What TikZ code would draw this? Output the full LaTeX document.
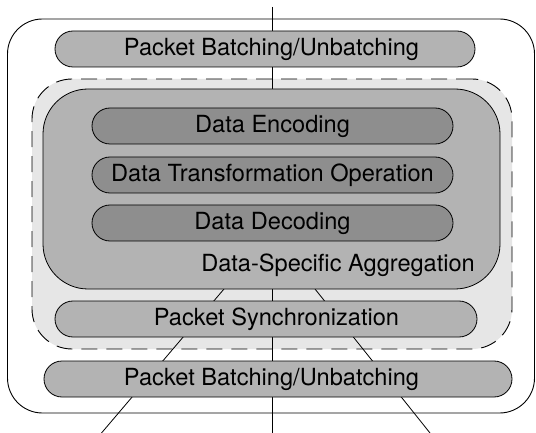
\documentclass[tikz,border=0pt]{standalone}
\usepackage{fontspec}
\setmainfont{TeX Gyre Heros}
\pgfdeclarelayer{bg}
\pgfdeclarelayer{mid}
\pgfsetlayers{bg,mid,main}
\definecolor{midgray}{HTML}{B3B3B3}
\definecolor{darkgray}{HTML}{8E8E8E}
\definecolor{lightgray}{HTML}{E6E6E6}
\begin{document}
\begin{tikzpicture}[x=1pt,y=-1pt,
  font=\fontsize{23.6}{27}\selectfont,
  pill/.style={draw=black, line width=0.8pt, fill=midgray, rounded corners=18pt,
    minimum height=36pt, inner sep=0pt},
  databox/.style={pill, fill=darkgray},
  txt/.style={inner sep=0pt},
  outerbox/.style={draw=black, line width=0.9pt, fill=white, rounded corners=35pt, inner sep=0pt},
  dashbox/.style={draw=black, line width=0.9pt, fill=lightgray, rounded corners=40pt,
    dash pattern=on 16pt off 9pt, inner sep=0pt},
  aggbox/.style={draw=black, line width=0.8pt, fill=midgray, rounded corners=45pt, inner sep=0pt},
  wire/.style={draw=black, line width=0.8pt}]
\useasboundingbox (0,0) rectangle (536,433);
\begin{pgfonlayer}{bg}
  \node[outerbox, minimum width=527pt, minimum height=394pt] (outer) at (271,216) {};
  \node[dashbox, minimum width=480pt, minimum height=270pt] (dash) at (272,214) {};
\end{pgfonlayer}
\node[aggbox, minimum width=457pt, minimum height=200pt] (agg) at (271.5,189) {};
\node[databox, minimum width=361pt] (enc) at (272.5,126) {Data Encoding};
\node[databox, minimum width=361pt] (trans) at (272.5,175) {Data Transformation Operation};
\node[databox, minimum width=361pt] (dec) at (272.5,223) {Data Decoding};
\node[txt, anchor=base east] (agglabel) at (475,271) {Data-Specific Aggregation};
\node[pill, minimum width=420pt] (topbatch) at (265,49) {};
\node[txt] (toplabel) at (271.5,49) {Packet Batching/Unbatching};
\node[pill, minimum width=422pt] (sync) at (266,319) {};
\node[txt] (synclabel) at (276.5,319) {Packet Synchronization};
\node[pill, minimum width=468pt] (botbatch) at (278,379) {};
\node[txt] (botlabel) at (271.5,379) {Packet Batching/Unbatching};
\coordinate (vt) at (272,7);
\coordinate (vb) at (272,433);
\coordinate (lb) at (101.5,433);
\coordinate (la) at (224,289);
\coordinate (rb) at (430,433);
\coordinate (ra) at (315,289);
\begin{pgfonlayer}{mid}
  \draw[wire] (vt) -- (vb);
  \draw[wire] (lb) -- (la);
  \draw[wire] (rb) -- (ra);
\end{pgfonlayer}
\end{tikzpicture}
\end{document}
